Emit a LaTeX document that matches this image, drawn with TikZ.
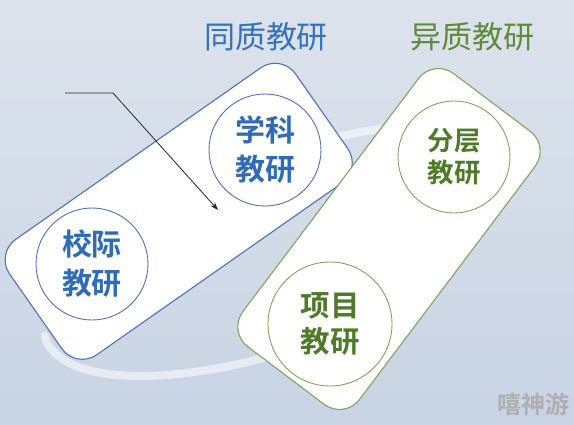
\documentclass[tikz,border=0pt]{standalone}
\usepackage{fontspec}
\newfontfamily\cjk{Noto Sans CJK SC}[BoldFont={Noto Sans CJK SC Bold}]
\usetikzlibrary{arrows.meta}
\definecolor{bgA}{HTML}{DDE3EC}
\definecolor{bgB}{HTML}{C8D4E4}
\definecolor{blueL}{HTML}{4D72B6}
\definecolor{blueT}{HTML}{2F6CB4}
\definecolor{blueTitle}{HTML}{3571BC}
\definecolor{greenL}{HTML}{7FA55A}
\definecolor{greenT}{HTML}{4E7A2A}
\definecolor{greenTitle}{HTML}{5E8B3A}
\definecolor{wmgray}{HTML}{AFAFAF}
\tikzset{
  panel/.style={fill=white, rounded corners=25pt, line width=1.1pt, inner sep=0pt},
  topic/.style={circle, fill=white, line width=0.9pt, inner sep=0pt, align=center},
  title/.style={font=\cjk\fontsize{31}{31}\selectfont, inner sep=0pt},
  ring/.style={white, opacity=0.55, line width=8pt, line cap=round},
}
\newcommand{\ringx}[1]{290 + 0.94*260*cos(#1) + 0.342*95*sin(#1)}
\newcommand{\ringy}[1]{250 - 0.342*260*cos(#1) + 0.94*95*sin(#1)}
\begin{document}
\begin{tikzpicture}[x=1pt,y=-1pt]
\useasboundingbox (0,0) rectangle (574,424);
\shade[top color=bgA, bottom color=bgB] (0,0) rectangle (574,424);
% ring
\draw[ring] plot[domain=90:182, samples=80, smooth] ({\ringx{\x}}, {\ringy{\x}});
\draw[ring] plot[domain=240:320, samples=80, smooth] ({\ringx{\x}}, {\ringy{\x}});
% panels
\node[panel, draw=blueL, minimum width=349pt, minimum height=141pt, rotate=35] (bp) at (178.7,211.3) {};
\node[panel, draw=greenL, minimum width=342pt, minimum height=146pt, rotate=53] (gp) at (389,239) {};
% circles
\node[topic, draw=blueL, minimum size=112pt, text=blueT,
      font=\cjk\bfseries\fontsize{30}{39}\selectfont] (c1) at (265,150) {学科\\教研};
\node[topic, draw=blueL, minimum size=112pt, text=blueT,
      font=\cjk\bfseries\fontsize{30}{39}\selectfont] (c2) at (92,264) {校际\\教研};
\node[topic, draw=greenL, minimum size=112pt, text=greenT,
      font=\cjk\bfseries\fontsize{26.5}{32}\selectfont] (c3) at (454,157) {分层\\教研};
\node[topic, draw=greenL, minimum size=124pt, text=greenT,
      font=\cjk\bfseries\fontsize{29.5}{36}\selectfont] (c4) at (330,324) {项目\\教研};
% titles
\node[title, text=blueTitle] (t1) at (266,37) {同质教研};
\node[title, text=greenTitle] (t2) at (472,37) {异质教研};
% arrow
\coordinate (a0) at (65,93);
\coordinate (a1) at (113,93);
\coordinate (a2) at (218,210);
\draw[black!85, line width=0.8pt, -{Stealth[length=8pt,width=5.5pt]}] (a0) -- (a1) -- (a2);
% watermark
\node[font=\cjk\bfseries\fontsize{24}{24}\selectfont, text=wmgray, inner sep=0pt] (wm) at (533,404) {嘻神游};
\end{tikzpicture}
\end{document}
